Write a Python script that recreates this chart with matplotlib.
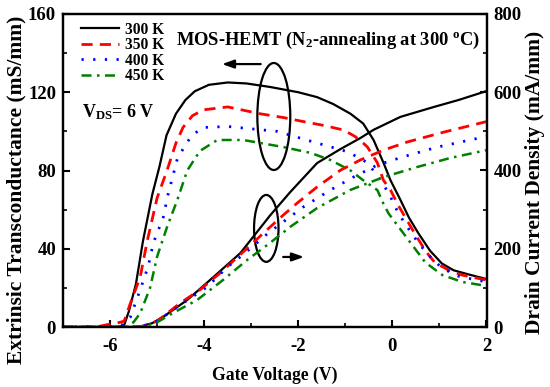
import matplotlib
matplotlib.use("Agg")
import matplotlib.pyplot as plt
from matplotlib.patches import Ellipse
from matplotlib.ticker import MultipleLocator

plt.rcParams['font.family'] = ['Liberation Serif', 'DejaVu Serif']
plt.rcParams['font.weight'] = 'bold'
plt.rcParams['mathtext.fontset'] = 'custom'
plt.rcParams['mathtext.rm'] = 'Liberation Serif:bold'
plt.rcParams['mathtext.bf'] = 'Liberation Serif:bold'
plt.rcParams['mathtext.it'] = 'Liberation Serif:bold:italic'

# ---------------- data ----------------
temps = ["300 K", "350 K", "400 K", "450 K"]

# transconductance (left axis)
vg_gm300 = [-7.0, -6.0, -5.8, -5.7, -5.6, -5.45, -5.3, -5.1, -4.95, -4.8, -4.6, -4.4, -4.2, -3.9, -3.5,
            -3.1, -2.6, -2.0, -1.6, -1.26, -0.89, -0.62, -0.4, -0.19, -0.04, 0.17, 0.35, 0.55, 0.8, 1.05,
            1.3, 1.6, 2.0]
gm300 = [0, 0, 0.2, 1, 8, 22, 44, 68, 82, 98, 109, 116, 120.5, 123.8, 125,
         124.5, 122.7, 120, 117.5, 114, 109, 104, 95.6, 84, 75, 65, 56, 48, 39, 32.5,
         29, 27, 24.5]

vg_gm350 = [-7.0, -6.3, -6.0, -5.85, -5.7, -5.57, -5.36, -5.21, -5.0, -4.79, -4.6, -4.45, -4.25, -4.02, -3.5,
            -2.81, -2.3, -1.89, -1.45, -1.04, -0.8, -0.62, -0.53, -0.32, -0.19, -0.04, 0.13, 0.3, 0.47, 0.7,
            0.9, 1.2, 1.47, 2.0]
gm350 = [0, 0, 1.5, 2, 3, 12, 25.5, 44, 66, 80, 94, 102, 108, 111, 112.5,
         109, 107, 105, 103, 100.7, 97.5, 94, 92, 84, 75, 70, 62, 55, 48, 39,
         33, 29, 26.6, 24]

vg_gm400 = [-7.0, -6.0, -5.75, -5.57, -5.36, -5.19, -5.08, -4.87, -4.77, -4.57, -4.4, -4.26, -4.02, -3.5, -2.45,
            -1.68, -0.94, -0.53, -0.3, -0.08, 0.13, 0.35, 0.55, 0.8, 1.06, 1.4, 2.0]
gm400 = [0, 0, 1, 5, 19, 31, 43, 56, 67.5, 86, 93, 98, 102, 102.5, 100,
         94.6, 89.5, 84, 76.7, 68.5, 58, 50, 43, 36, 30, 26, 23]

vg_gm450 = [-7.0, -6.0, -5.64, -5.5, -5.36, -5.15, -5.0, -4.79, -4.57, -4.36, -4.09, -3.72, -3.17, -2.32, -1.74,
            -1.32, -0.89, -0.62, -0.32, -0.19, -0.08, 0.34, 0.7, 1.06, 1.49, 2.0]
gm450 = [0, 0, 0, 2.5, 7, 20, 36, 51, 65, 80, 90, 95.6, 95.6, 92, 89,
         85.4, 80, 75, 70, 63, 58, 44.5, 33, 26.6, 23, 21]

# drain current density (right axis)
vg_id300 = [-7.0, -5.6, -5.36, -5.1, -4.87, -4.36, -3.8, -3.23, -2.6, -2.17, -1.6, -1.1, -0.68, -0.4, 0.17,
            0.87, 1.4, 2.0]
id300 = [0, 0, 1, 10, 26, 69, 128, 189, 285, 345, 419, 455, 483, 504, 537, 562, 580, 603]

vg_id350 = [-7.0, -5.6, -5.3, -5.0, -4.51, -4.09, -3.66, -3.17, -2.74, -2.32, -2.02, -1.6, -1.1, -0.68, -0.19,
            0.32, 1.09, 2.0]
id350 = [0, 0, 2, 15, 61, 95, 138, 192, 240, 286, 317, 358, 401, 427, 452, 473, 498, 525]

vg_id400 = [-7.0, -5.6, -5.3, -5.0, -4.45, -3.94, -3.51, -3.13, -2.64, -1.89, -1.32, -0.83, -0.32, 0.23, 0.96, 2.0]
id400 = [0, 0, 2, 15, 61, 102, 153, 189, 240, 307, 350, 383, 414, 435, 460, 487]

vg_id450 = [-7.0, -5.6, -5.3, -5.0, -4.66, -4.15, -3.6, -3.09, -2.6, -2.17, -1.6, -0.9, -0.19, 0.53, 1.23, 2.0]
id450 = [0, 0, 1, 12, 36, 69, 120, 171, 215, 256, 304, 350, 383, 409, 432, 452]

# ---------------- styles ----------------
styles = [
    dict(color='black', lw=1.6, ls='-'),
    dict(color='#ff0000', lw=2.0, ls=(0, (4, 2.6))),
    dict(color='#0000ff', lw=2.0, ls=(0, (0.8, 3.4))),
    dict(color='#008000', lw=1.8, ls=(0, (4, 2.2, 1, 2.2))),
]

fig = plt.figure(figsize=(5.5, 3.87), dpi=100)
ax = fig.add_axes([63 / 550, 1 - 327 / 387, (486.5 - 63) / 550, (327 - 14) / 387])
ax2 = ax.twinx()

gm_sets = [(vg_gm300, gm300), (vg_gm350, gm350), (vg_gm400, gm400), (vg_gm450, gm450)]
id_sets = [(vg_id300, id300), (vg_id350, id350), (vg_id400, id400), (vg_id450, id450)]

handles = []
for (x, y), st, lab in zip(gm_sets, styles, temps):
    h, = ax.plot(x, y, label=lab, **st)
    handles.append(h)
for (x, y), st in zip(id_sets, styles):
    ax2.plot(x, y, **st)

ax.set_xlim(-7, 2)
ax.set_ylim(0, 160)
ax2.set_ylim(0, 800)

ax.xaxis.set_major_locator(MultipleLocator(2))
ax.xaxis.set_minor_locator(MultipleLocator(1))
ax.yaxis.set_major_locator(MultipleLocator(40))
ax.yaxis.set_minor_locator(MultipleLocator(20))
ax2.yaxis.set_major_locator(MultipleLocator(200))
ax2.yaxis.set_minor_locator(MultipleLocator(100))

ax.set_xticks([-6, -4, -2, 0, 2])
ax.set_xticklabels(['-6', '-4', '-2', '0', '2'])

for a in (ax, ax2):
    for s in a.spines.values():
        s.set_linewidth(1.6)
ax.tick_params(axis='both', which='major', direction='in', length=5, width=1.5, labelsize=13.5, pad=5)
ax.tick_params(axis='x', which='major', pad=8)
ax.tick_params(axis='both', which='minor', direction='in', length=3, width=1.2)
ax.tick_params(axis='x', which='both', top=False)
ax.tick_params(axis='y', which='both', right=False)
ax2.tick_params(axis='y', which='major', direction='in', length=5, width=1.5, labelsize=13.5, pad=5)
ax2.tick_params(axis='y', which='minor', direction='in', length=3, width=1.2)

ax.set_xlabel('Gate Voltage (V)', fontsize=12.7, fontweight='bold', labelpad=8)
ax.set_ylabel('Extrinsic Transconductance (mS/mm)', fontsize=15.5, fontweight='bold')
ax2.set_ylabel('Drain Current Density (mA/mm)', fontsize=15.5, fontweight='bold')
ax.yaxis.set_label_coords(-0.087, (327 - 190) / 313)
ax2.yaxis.set_label_coords(1.092, (327 - 182) / 313)

leg = ax.legend(handles=handles, loc='upper left', frameon=False, fontsize=11.2,
                handlelength=2.45, handletextpad=0.35, labelspacing=-0.03,
                borderaxespad=0.1, bbox_to_anchor=(0.025, 1.0))

ax.text(-4.6, 146.5, 'MOS-HEMT (N$_\\mathregular{2}$-annealing at 300 $^\\mathregular{o}$C)',
        fontsize=13.3, fontweight='bold', va='center', ha='left')
ax.text(-6.6, 110, 'V$_\\mathregular{DS}$= 6 V', fontsize=13, fontweight='bold', va='center', ha='left')

# annotation ellipses and arrows
ax.add_patch(Ellipse((-2.52, 107.6), 0.70, 54.7, fill=False, lw=1.6, ec='black'))
ax.add_patch(Ellipse((-2.68, 50.4), 0.52, 34.2, fill=False, lw=1.6, ec='black'))
ax.annotate('', xy=(-3.68, 134.4), xytext=(-2.74, 134.4),
            arrowprops=dict(arrowstyle='-|>,head_length=0.7,head_width=0.25', color='black', lw=1.6))
ax.annotate('', xy=(-1.82, 35.8), xytext=(-2.38, 35.8),
            arrowprops=dict(arrowstyle='-|>,head_length=0.7,head_width=0.25', color='black', lw=1.6))

fig.savefig('out.png', dpi=100)
